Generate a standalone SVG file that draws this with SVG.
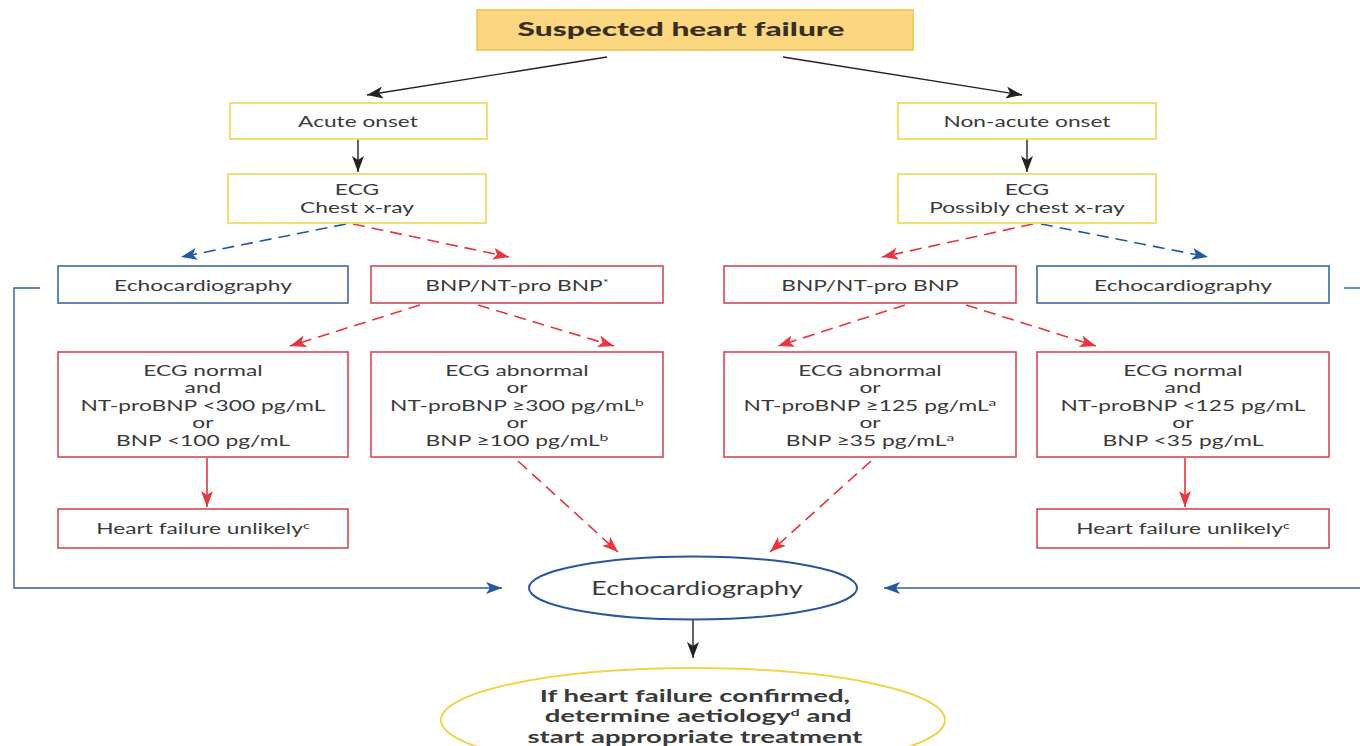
<svg xmlns="http://www.w3.org/2000/svg" width="1360" height="746" viewBox="0 0 1360 746">
<style>
text{font-family:Lato,"Open Sans","Liberation Sans",sans-serif;fill:#3a3a3a;text-anchor:middle;font-size:16px;transform-box:fill-box;transform-origin:center;transform:scaleX(1.42)}
.title{font-size:18px;font-weight:900;transform:scaleX(1.76);fill:#3a2e22}
.two{font-size:15px;transform:scaleX(1.515)}
.five{font-size:14.5px;transform:scaleX(1.57)}
.big{font-size:19px}
.bold{font-size:17px;font-weight:700;transform:scaleX(1.62)}
.sup{font-size:10px}
.ybox{fill:#fff;stroke:#f0d64e;stroke-width:1.6}
.rbox{fill:#fff;stroke:#d44a56;stroke-width:1.6}
.bbox{fill:#fff;stroke:#3d6a9c;stroke-width:1.6}
.k{stroke:#222;stroke-width:1.4;fill:none;marker-end:url(#ak)}
.r{stroke:#e8343c;stroke-width:1.6;fill:none;marker-end:url(#ar)}
.rd{stroke:#e8343c;stroke-width:1.6;fill:none;stroke-dasharray:12 7;marker-end:url(#ar)}
.bd{stroke:#2258a8;stroke-width:1.6;fill:none;stroke-dasharray:12 7;marker-end:url(#ab)}
.bl{stroke:#2f5f9a;stroke-width:1.4;fill:none}
.bla{stroke:#2f5f9a;stroke-width:1.4;fill:none;marker-end:url(#ab)}
</style>
<defs>
<marker id="ak" viewBox="0 0 16 12" refX="16" refY="6" markerWidth="16" markerHeight="12" markerUnits="userSpaceOnUse" orient="auto"><path d="M0,0 L16,6 L0,12 L4,6 z" fill="#222"/></marker>
<marker id="ar" viewBox="0 0 16 12" refX="16" refY="6" markerWidth="16" markerHeight="12" markerUnits="userSpaceOnUse" orient="auto"><path d="M0,0 L16,6 L0,12 L4,6 z" fill="#e8343c"/></marker>
<marker id="ab" viewBox="0 0 16 12" refX="16" refY="6" markerWidth="16" markerHeight="12" markerUnits="userSpaceOnUse" orient="auto"><path d="M0,0 L16,6 L0,12 L4,6 z" fill="#2258a8"/></marker>
</defs>
<rect width="1360" height="746" fill="#fff"/>

<g id="connectors">
<line class="k" x1="607" y1="57" x2="367" y2="95"/>
<line class="k" x1="783" y1="57" x2="1022" y2="95"/>
<line class="k" x1="358" y1="139" x2="358" y2="172"/>
<line class="k" x1="1027" y1="139" x2="1027" y2="172"/>
<line class="bd" x1="346" y1="224" x2="181" y2="257"/>
<line class="rd" x1="353" y1="224" x2="509" y2="257"/>
<line class="rd" x1="1033" y1="224" x2="882" y2="257"/>
<line class="bd" x1="1041" y1="224" x2="1208" y2="257"/>
<line class="rd" x1="420" y1="305" x2="290" y2="346"/>
<line class="rd" x1="478" y1="305" x2="614" y2="346"/>
<line class="rd" x1="905" y1="305" x2="778" y2="346"/>
<line class="rd" x1="966" y1="305" x2="1096" y2="346"/>
<line class="r" x1="207" y1="458" x2="207" y2="507"/>
<line class="r" x1="1185" y1="458" x2="1185" y2="507"/>
<line class="rd" x1="518" y1="461" x2="618" y2="552"/>
<line class="rd" x1="871" y1="461" x2="770" y2="552"/>
<path class="bl" d="M40,288 H14 V588 H40"/>
<line class="bla" x1="40" y1="588" x2="502" y2="588"/>
<line class="bl" x1="1344" y1="288" x2="1360" y2="288"/>
<line class="bla" x1="1360" y1="588" x2="884" y2="588"/>
<line class="k" x1="693" y1="620" x2="693" y2="658"/>
</g>

<g id="n-suspected">
<rect x="477" y="10" width="436" height="40" fill="#fbd87f" stroke="#efc451" stroke-width="1.6"/>
<text class="title" x="681" y="36">Suspected heart failure</text>
</g>
<g id="n-acute">
<rect class="ybox" x="230" y="103" width="257" height="36"/>
<text x="358" y="127">Acute onset</text>
</g>
<g id="n-nonacute">
<rect class="ybox" x="898" y="103" width="258" height="36"/>
<text x="1027" y="127">Non-acute onset</text>
</g>
<g id="n-ecg-left">
<rect class="ybox" x="228" y="174" width="258" height="49"/>
<text class="two" x="357" y="195">ECG<tspan x="357" dy="18">Chest x-ray</tspan></text>
</g>
<g id="n-ecg-right">
<rect class="ybox" x="898" y="174" width="258" height="49"/>
<text class="two" x="1027" y="195">ECG<tspan x="1027" dy="18">Possibly chest x-ray</tspan></text>
</g>
<g id="n-echo-left">
<rect class="bbox" x="58" y="266" width="290" height="37"/>
<text x="203" y="291">Echocardiography</text>
</g>
<g id="n-bnp-left">
<rect class="rbox" x="371" y="266" width="292" height="37"/>
<text x="517" y="291">BNP/NT-pro BNP<tspan class="sup" dy="-5">*</tspan></text>
</g>
<g id="n-bnp-right">
<rect class="rbox" x="724" y="266" width="292" height="37"/>
<text x="870" y="291">BNP/NT-pro BNP</text>
</g>
<g id="n-echo-right">
<rect class="bbox" x="1037" y="266" width="292" height="37"/>
<text x="1183" y="291">Echocardiography</text>
</g>
<g id="n-normal-left">
<rect class="rbox" x="58" y="352" width="290" height="105"/>
<text class="five" x="203" y="376">ECG normal<tspan x="203" dy="17.5">and</tspan><tspan x="203" dy="17.5">NT-proBNP &lt;300 pg/mL</tspan><tspan x="203" dy="17.5">or</tspan><tspan x="203" dy="17.5">BNP &lt;100 pg/mL</tspan></text>
</g>
<g id="n-abnormal-left">
<rect class="rbox" x="371" y="352" width="292" height="105"/>
<text class="five" x="517" y="376">ECG abnormal<tspan x="517" dy="17.5">or</tspan><tspan x="517" dy="17.5">NT-proBNP ≥300 pg/mL</tspan><tspan class="sup" dy="-5">b</tspan><tspan x="517" dy="22.5">or</tspan><tspan x="517" dy="17.5">BNP ≥100 pg/mL</tspan><tspan class="sup" dy="-5">b</tspan></text>
</g>
<g id="n-abnormal-right">
<rect class="rbox" x="724" y="352" width="292" height="105"/>
<text class="five" x="870" y="376">ECG abnormal<tspan x="870" dy="17.5">or</tspan><tspan x="870" dy="17.5">NT-proBNP ≥125 pg/mL</tspan><tspan class="sup" dy="-5">a</tspan><tspan x="870" dy="22.5">or</tspan><tspan x="870" dy="17.5">BNP ≥35 pg/mL</tspan><tspan class="sup" dy="-5">a</tspan></text>
</g>
<g id="n-normal-right">
<rect class="rbox" x="1037" y="352" width="292" height="105"/>
<text class="five" x="1183" y="376">ECG normal<tspan x="1183" dy="17.5">and</tspan><tspan x="1183" dy="17.5">NT-proBNP &lt;125 pg/mL</tspan><tspan x="1183" dy="17.5">or</tspan><tspan x="1183" dy="17.5">BNP &lt;35 pg/mL</tspan></text>
</g>
<g id="n-unlikely-left">
<rect class="rbox" x="58" y="509" width="290" height="39"/>
<text x="203" y="534">Heart failure unlikely<tspan class="sup" dy="-5">c</tspan></text>
</g>
<g id="n-unlikely-right">
<rect class="rbox" x="1037" y="509" width="292" height="39"/>
<text x="1183" y="534">Heart failure unlikely<tspan class="sup" dy="-5">c</tspan></text>
</g>
<g id="n-echo-center">
<ellipse cx="693" cy="588" rx="164" ry="31.5" fill="#fff" stroke="#2a56a0" stroke-width="2"/>
<text class="big" x="697" y="595">Echocardiography</text>
</g>
<g id="n-confirmed">
<ellipse cx="693" cy="720" rx="252" ry="52" fill="#fff" stroke="#f0d44a" stroke-width="2"/>
<text class="bold" x="695" y="702">If heart failure confirmed,<tspan x="697" dy="20.5">determine aetiology</tspan><tspan class="sup" dy="-6" font-size="11">d</tspan><tspan dy="6"> and</tspan><tspan x="695" dy="20.5">start appropriate treatment</tspan></text>
</g>
</svg>
